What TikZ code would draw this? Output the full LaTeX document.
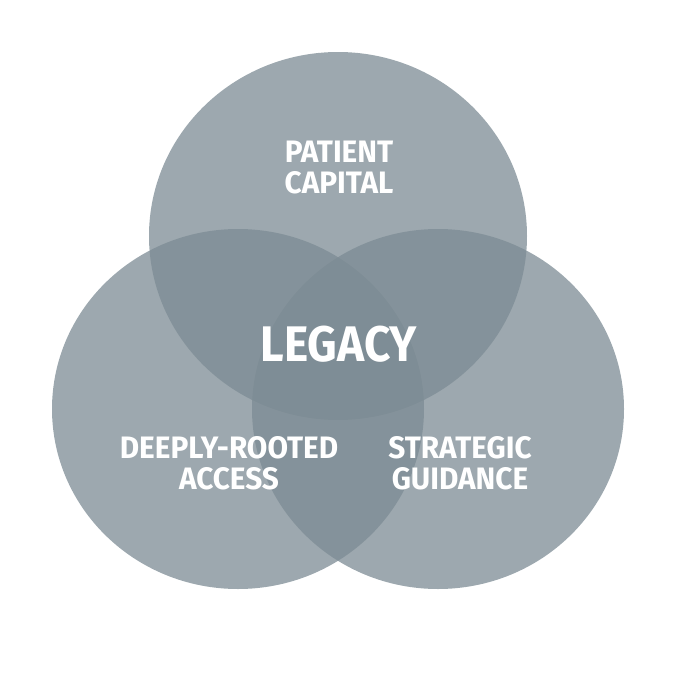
\documentclass[tikz,border=0pt]{standalone}
\usepackage{fontspec}
\setmainfont{Fira Sans}
\newfontfamily\vennfont[FakeStretch=0.96]{Fira Sans}
\newfontfamily\vennfontlarge[FakeStretch=0.92]{Fira Sans}
\usepackage{xcolor}
\definecolor{ardoise}{RGB}{124,139,148}
\usetikzlibrary{positioning, shapes.geometric}

\begin{document}
\begin{tikzpicture}[x=1pt, y=-1pt,
    cercle/.style={
        ellipse, fill=ardoise, fill opacity=0.75,
        minimum width=372pt, minimum height=360pt, inner sep=0pt
    },
    mot/.style={text=white, align=center,
        font=\vennfont\bfseries\fontsize{31}{31}\selectfont},
    grandmot/.style={mot, font=\vennfontlarge\bfseries\fontsize{50}{55}\selectfont}
]
\useasboundingbox (0,0) rectangle (678,680);

\node[cercle, minimum width=378pt, minimum height=368pt] (C1) at (338,236) {};
\node[cercle] (C2) at (238,409) {};
\node[cercle] (C3) at (438,409) {};

\node[mot] (P) at (339,168) {PATIENT\\CAPITAL};
\node[grandmot] (L) at (339,344) {LEGACY};
\node[mot] (D) at (229,463) {DEEPLY-ROOTED\\ACCESS};
\node[mot] (S) at (460,463) {STRATEGIC\\GUIDANCE};
\end{tikzpicture}
\end{document}
